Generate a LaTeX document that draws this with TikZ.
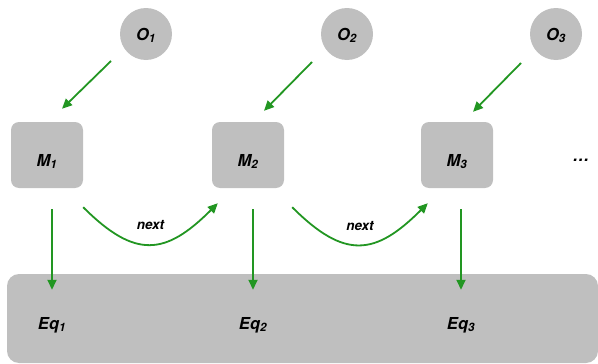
\documentclass[tikz,border=0pt]{standalone}
\usepackage{fontspec}
\setmainfont{TeX Gyre Heros}
\usetikzlibrary{arrows.meta}
\definecolor{boxgray}{RGB}{191,191,191}
\definecolor{flowgreen}{RGB}{34,150,34}

\begin{document}
\begin{tikzpicture}[x=1pt,y=1pt]
	\tikzstyle{every node}+=[font=\fontsize{16.5}{19}\selectfont\bfseries\itshape]
	\tikzstyle{oball}=[circle,fill=boxgray,minimum size=52pt,inner sep=0pt,text depth=0pt]
	\tikzstyle{mbox}=[rectangle,rounded corners=8pt,fill=boxgray,minimum width=72pt,minimum height=66pt,inner sep=0pt,text height=22pt,text depth=0pt]
	\tikzstyle{flow}=[draw=flowgreen,line width=1.8pt,-{Triangle[length=10pt,width=9pt]}]
	\tikzstyle{nextlbl}=[font=\fontsize{13.5}{15}\selectfont\bfseries\itshape]
	\useasboundingbox (0,0) rectangle (598,-364);
	% equation strip
	\fill [boxgray,rounded corners=12pt] (7,-274) rectangle (598,-363);
	\node [oball] (o1) at (146,-34) {O\textsubscript{1}};
	\node [oball] (o2) at (347,-34) {O\textsubscript{2}};
	\node [oball] (o3) at (556,-34) {O\textsubscript{3}};
	\node [mbox] (m1) at (47,-155) {M\textsubscript{1}};
	\node [mbox] (m2) at (248,-155) {M\textsubscript{2}};
	\node [mbox] (m3) at (457,-155) {M\textsubscript{3}};
	\node [anchor=base] (more) at (581,-161) {…};
	\node [anchor=base,inner sep=0pt] (eq1) at (52,-329) {Eq\textsubscript{1}};
	\node [anchor=base,inner sep=0pt] (eq2) at (253,-329) {Eq\textsubscript{2}};
	\node [anchor=base,inner sep=0pt] (eq3) at (461,-329) {Eq\textsubscript{3}};
	% observations into models
	\draw [flow] ([xshift=-35pt,yshift=-27pt]o1.center) -- ([xshift=15pt,yshift=13pt]m1.north);
	\draw [flow] ([xshift=-35pt,yshift=-28pt]o2.center) -- ([xshift=16pt,yshift=11pt]m2.north);
	\draw [flow] ([xshift=-35pt,yshift=-29pt]o3.center) -- ([xshift=16pt,yshift=10pt]m3.north);
	% models into equations
	\draw [flow] ([yshift=-21pt]m1.south -| eq1.north) -- ([yshift=27pt]eq1.north);
	\draw [flow] ([yshift=-21pt]m2.south -| eq2.north) -- ([yshift=27pt]eq2.north);
	\draw [flow] ([yshift=-21pt]m3.south -| eq3.north) -- ([yshift=27pt]eq3.north);
	% next steps
	\draw [flow] ([yshift=-19pt]m1.south east) to [out=-45,in=-135,looseness=1.4] node [nextlbl,midway,yshift=19pt] {next} ([xshift=6pt,yshift=-15pt]m2.south west);
	\draw [flow] ([xshift=8pt,yshift=-19pt]m2.south east) to [out=-45,in=-135,looseness=1.4] node [nextlbl,midway,yshift=19pt] {next} ([xshift=7pt,yshift=-15pt]m3.south west);
\end{tikzpicture}
\end{document}
